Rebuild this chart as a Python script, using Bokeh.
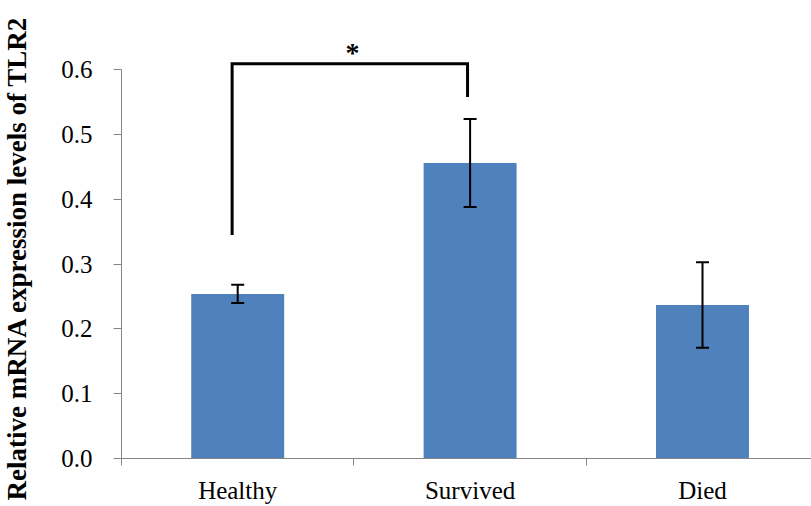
import numpy as np
from bokeh.plotting import figure
from bokeh.models import (ColumnDataSource, Whisker, TeeHead, FixedTicker, Range1d,
                          Title, NumeralTickFormatter)
from bokeh.core.properties import value
from bokeh.embed import file_html
from bokeh.resources import INLINE

# ---- data ----
categories = ["Healthy", "Survived", "Died"]
means = [0.254, 0.456, 0.237]
errors = [0.014, 0.068, 0.066]
y_ticks = [0.0, 0.1, 0.2, 0.3, 0.4, 0.5, 0.6]
y_label = "Relative mRNA expression levels of TLR2"
# significance bracket (Healthy vs Survived), in axis units
bracket_x = [0.476, 0.476, 1.489, 1.489]
bracket_y = [0.345, 0.609, 0.609, 0.558]
sig_text = ["*"]
sig_x = [0.994]
sig_y = [0.627]

BAR = "#4F81BD"
AXIS = "#868686"
SERIF = "Liberation Serif"

xpos = np.arange(len(categories)) + 0.5
upper = [m + e for m, e in zip(means, errors)]
lower = [m - e for m, e in zip(means, errors)]
src = ColumnDataSource(dict(x=xpos, top=means, upper=upper, lower=lower))

p = figure(frame_width=690, frame_height=458, output_backend="svg",
           toolbar_location=None, x_range=Range1d(0, 2.969), y_range=Range1d(0, 0.7068),
           min_border_left=121, min_border_right=0, min_border_top=0, min_border_bottom=48)
p.outline_line_color = None
p.xgrid.visible = False
p.ygrid.visible = False
p.background_fill_color = "white"
p.border_fill_color = "white"

p.vbar(x="x", top="top", width=0.4, source=src, fill_color=BAR, line_color=None)

w = Whisker(base="x", upper="upper", lower="lower", source=src, level="overlay",
            line_color="black", line_width=2,
            upper_head=TeeHead(size=13, line_width=2, line_color="black"),
            lower_head=TeeHead(size=13, line_width=2, line_color="black"))
p.add_layout(w)

p.line(bracket_x, bracket_y, line_color="black", line_width=3, line_join="miter")
p.text(x=sig_x, y=sig_y, text=sig_text, text_font=value(SERIF), text_font_style="bold",
       text_font_size="28px", text_align="center", text_baseline="middle", text_color="black")

# y axis
ya = p.yaxis[0]
ya.ticker = FixedTicker(ticks=y_ticks, minor_ticks=[])
ya.formatter = NumeralTickFormatter(format="0.0")
ya.bounds = (0, 0.6)
ya.axis_line_color = AXIS
ya.major_tick_line_color = AXIS
ya.major_tick_out = 8
ya.major_tick_in = 0
ya.minor_tick_line_color = None
ya.major_label_text_font = SERIF
ya.major_label_text_font_size = "25px"
ya.major_label_text_color = "black"
ya.major_label_standoff = 21
ya.axis_label = " "
ya.axis_label_text_font_size = "2px"
ya.axis_label_standoff = 20

# x axis
xa = p.xaxis[0]
xa.ticker = FixedTicker(ticks=list(xpos), minor_ticks=[0, 1, 2, 3])
xa.major_label_overrides = {float(x): c for x, c in zip(xpos, categories)}
xa.axis_line_color = AXIS
xa.major_tick_line_color = None
xa.major_tick_out = 0
xa.major_tick_in = 0
xa.minor_tick_line_color = AXIS
xa.minor_tick_out = 7
xa.minor_tick_in = 0
xa.major_label_text_font = SERIF
xa.major_label_text_font_size = "25px"
xa.major_label_text_color = "black"
xa.major_label_standoff = 11

t = Title(text=y_label, align="left", offset=-42, vertical_align="top", standoff=0,
          text_font=SERIF, text_font_style="bold", text_font_size="27px", text_color="black")
p.add_layout(t, "left")

open("out.html", "w").write(file_html(p, INLINE))
